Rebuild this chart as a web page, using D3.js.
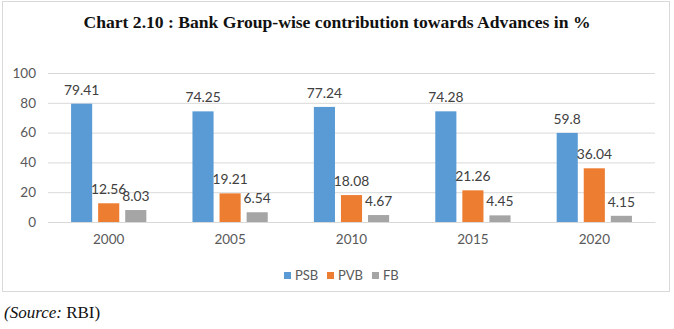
<!DOCTYPE html>
<html>
<head>
<meta charset="utf-8">
<script src="https://cdn.jsdelivr.net/npm/d3@7.9.0/dist/d3.min.js"></script>
<style>
  body { margin: 0; background: #fff; }
  svg { display: block; }
</style>
</head>
<body>
<svg id="chart" width="674" height="329"></svg>
<script>
// data
const years = ['2000', '2005', '2010', '2015', '2020'];
const groups = ['PSB', 'PVB', 'FB'];
const psb = [79.41, 74.25, 77.24, 74.28, 59.8];
const pvb = [12.56, 19.21, 18.08, 21.26, 36.04];
const fb = [8.03, 6.54, 4.67, 4.45, 4.15];
const yTicks = [0, 20, 40, 60, 80, 100];

const colors = d3.scaleOrdinal(groups, ['#5b9bd5', '#ed7d31', '#a5a5a5']);

const rows = years.map((yr, i) => ({ year: yr, PSB: psb[i], PVB: pvb[i], FB: fb[i] }));

const svg = d3.select('#chart');
const font = 'Lato, Carlito, Calibri, sans-serif';

// outer frame
svg.append('rect')
  .attr('x', 2.5).attr('y', 1.5)
  .attr('width', 667).attr('height', 290)
  .attr('fill', 'none')
  .attr('stroke', '#d9d9d9');

svg.append('text')
  .attr('x', 337).attr('y', 28)
  .attr('text-anchor', 'middle')
  .attr('font-family', '"Liberation Serif", serif')
  .attr('font-weight', 'bold')
  .attr('font-size', 17.6)
  .attr('fill', '#111')
  .text('Chart 2.10 : Bank Group-wise contribution towards Advances in %');

const left = 48, right = 655;
const x0 = d3.scaleBand().domain(years).range([left, right]).paddingInner(0.38).paddingOuter(0.19);
const x1 = d3.scaleBand().domain(groups).range([0, x0.bandwidth()]).paddingInner(0.22);
const y = d3.scaleLinear().domain([0, 100]).range([222, 73]);

// grid + y axis
const yAxis = svg.append('g')
  .attr('transform', `translate(${left},0)`)
  .call(d3.axisLeft(y).tickValues(yTicks).tickSize(-(right - left)).tickPadding(12));
yAxis.select('.domain').remove();
yAxis.selectAll('.tick line').attr('stroke', '#d9d9d9');
yAxis.selectAll('.tick text')
  .attr('font-family', font).attr('font-size', 13.5).attr('fill', '#595959');

// x axis labels
const xAxis = svg.append('g')
  .attr('transform', `translate(0,${y(0)})`)
  .call(d3.axisBottom(x0).tickSize(0).tickPadding(12));
xAxis.select('.domain').attr('stroke', '#d9d9d9');
xAxis.selectAll('.tick text')
  .attr('font-family', font).attr('font-size', 13.5).attr('fill', '#595959');

const g = svg.append('g')
  .selectAll('g')
  .data(rows)
  .join('g')
  .attr('transform', d => `translate(${x0(d.year)},0)`);

g.selectAll('rect')
  .data(d => groups.map(k => ({ key: k, value: d[k] })))
  .join('rect')
  .attr('x', d => x1(d.key))
  .attr('y', d => y(d.value))
  .attr('width', x1.bandwidth())
  .attr('height', d => y(0) - y(d.value))
  .attr('fill', d => colors(d.key));

g.selectAll('text')
  .data(d => groups.map(k => ({ key: k, value: d[k] })))
  .join('text')
  .attr('x', d => x1(d.key) + x1.bandwidth() / 2)
  .attr('y', d => y(d.value) - 9)
  .attr('text-anchor', 'middle')
  .attr('font-family', font)
  .attr('font-size', 13.8)
  .attr('fill', '#404040')
  .text(d => d.value);

// legend
const legend = svg.append('g').attr('transform', 'translate(284,272)');
const items = legend.selectAll('g')
  .data(groups)
  .join('g')
  .attr('transform', (d, i) => `translate(${[0, 43, 88][i]},0)`);
items.append('rect')
  .attr('width', 7).attr('height', 7)
  .attr('fill', d => colors(d));
items.append('text')
  .attr('x', 11).attr('y', 7.5)
  .attr('font-family', font).attr('font-size', 13).attr('fill', '#595959')
  .text(d => d);

// source note
const src = svg.append('text')
  .attr('x', 4).attr('y', 318)
  .attr('font-family', '"Liberation Serif", serif')
  .attr('font-size', 17)
  .attr('fill', '#111');
src.append('tspan').attr('font-style', 'italic').text('(Source: ');
src.append('tspan').text('RBI)');
</script>
</body>
</html>
